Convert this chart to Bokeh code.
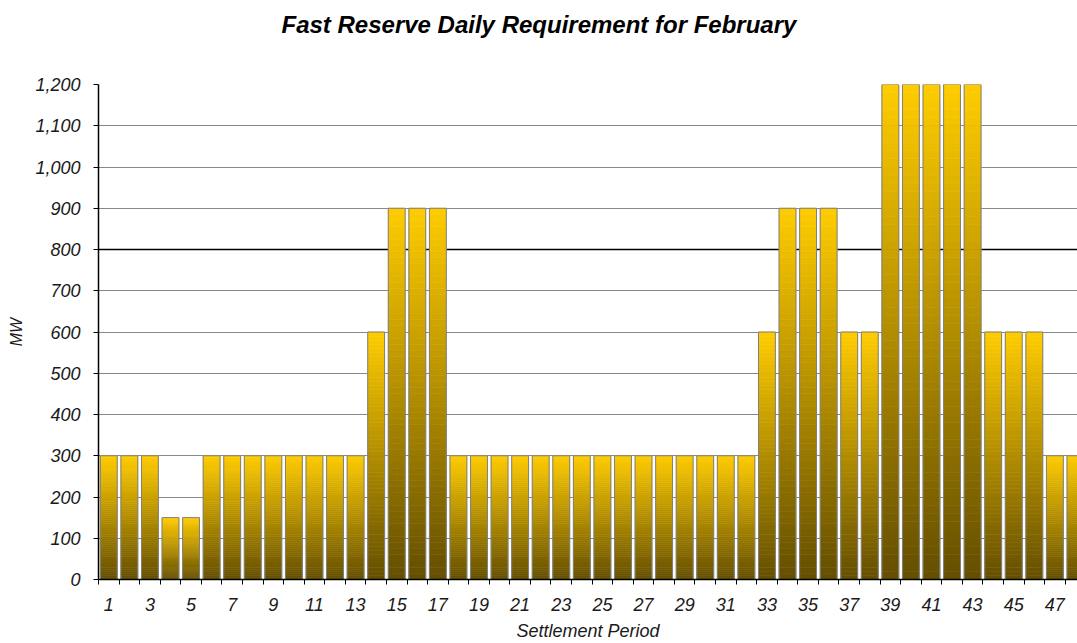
import numpy as np
from bokeh.plotting import figure
from bokeh.models import ColumnDataSource, FixedTicker, NumeralTickFormatter, Span, Range1d, Title
from bokeh.embed import file_html
from bokeh.resources import INLINE

# ---- data ----
periods = list(range(1, 49))
mw = [300, 300, 300, 150, 150, 300, 300, 300, 300, 300, 300, 300, 300, 600, 900, 900, 900,
      300, 300, 300, 300, 300, 300, 300, 300, 300, 300, 300, 300, 300, 300, 300,
      600, 900, 900, 900, 600, 600, 1200, 1200, 1200, 1200, 1200, 600, 600, 600, 300, 300]
y_ticks = list(range(0, 1300, 100))
x_label_ticks = list(range(1, 49, 2))
title_text = "Fast Reserve Daily Requirement for February"
x_title = "Settlement Period"
y_title = "MW"

# ---- style ----
BAR_W = 0.82
N_SLICES = 60
top_rgb = np.array([255, 204, 0])
bot_rgb = np.array([100, 78, 0])

left, right, bottom, top, colors = [], [], [], [], []
for x, v in zip(periods, mw):
    for j in range(N_SLICES):
        t = (j + 0.5) / N_SLICES
        c = bot_rgb + (top_rgb - bot_rgb) * t
        left.append(x - BAR_W / 2)
        right.append(x + BAR_W / 2)
        bottom.append(v * j / N_SLICES)
        top.append(v * (j + 1) / N_SLICES)
        colors.append("#%02x%02x%02x" % tuple(int(round(k)) for k in c))
slices = ColumnDataSource(dict(left=left, right=right, bottom=bottom, top=top, color=colors))
bars = ColumnDataSource(dict(x=periods, top=mw))

p = figure(width=1077, height=643, output_backend="svg", toolbar_location=None,
           x_range=Range1d(0.5, 48.1), y_range=Range1d(0, 1200),
           min_border_left=98, min_border_right=0, min_border_top=84, min_border_bottom=64)
p.background_fill_color = "white"
p.outline_line_color = None

p.title.text = title_text
p.title.align = "left"
p.title.offset = 183
p.title.standoff = 0
p.title.text_font = "Liberation Sans"
p.title.text_font_style = "bold italic"
p.title.text_font_size = "24px"
p.title.text_color = "black"
# spacer between title and plot frame
p.add_layout(Title(text=" ", text_font_size="2px", standoff=43), "above")

p.quad(left="left", right="right", bottom="bottom", top="top", source=slices,
       fill_color="color", line_color="color", line_width=0.6)
p.vbar(x="x", top="top", width=BAR_W, source=bars, fill_color=None,
       line_color="#808080", line_width=1)

p.xgrid.visible = False
p.ygrid.ticker = FixedTicker(ticks=y_ticks)
p.ygrid.grid_line_color = "#888888"
p.ygrid.grid_line_width = 1
p.add_layout(Span(location=800, dimension="width", line_color="black", line_width=1.5, level="underlay"))

xa = p.xaxis[0]
xa.ticker = FixedTicker(ticks=x_label_ticks, minor_ticks=[k + 0.5 for k in range(0, 49)])
xa.major_tick_line_color = None
xa.major_tick_out = 0
xa.minor_tick_line_color = "black"
xa.minor_tick_out = 5
xa.minor_tick_in = 0
xa.axis_line_color = "black"
xa.axis_line_width = 1.5
xa.major_label_text_font = "Liberation Sans"
xa.major_label_text_font_style = "italic"
xa.major_label_text_font_size = "18px"
xa.major_label_text_color = "#1a1a1a"
xa.major_label_standoff = 13
xa.axis_label = x_title
xa.axis_label_text_font = "Liberation Sans"
xa.axis_label_text_font_style = "italic"
xa.axis_label_text_font_size = "18px"
xa.axis_label_text_color = "#1a1a1a"
xa.axis_label_standoff = 7

ya = p.yaxis[0]
ya.ticker = FixedTicker(ticks=y_ticks)
ya.formatter = NumeralTickFormatter(format="0,0")
ya.minor_tick_line_color = None
ya.major_tick_out = 5
ya.major_tick_in = 0
ya.major_tick_line_color = "black"
ya.axis_line_color = "black"
ya.axis_line_width = 1.5
ya.major_label_text_font = "Liberation Sans"
ya.major_label_text_font_style = "italic"
ya.major_label_text_font_size = "18px"
ya.major_label_text_color = "#1a1a1a"
ya.major_label_standoff = 13
ya.axis_label = y_title
ya.axis_label_text_font = "Liberation Sans"
ya.axis_label_text_font_style = "italic"
ya.axis_label_text_font_size = "16px"
ya.axis_label_text_color = "#1a1a1a"
ya.axis_label_standoff = 7

open("out.html", "w").write(file_html(p, INLINE))
